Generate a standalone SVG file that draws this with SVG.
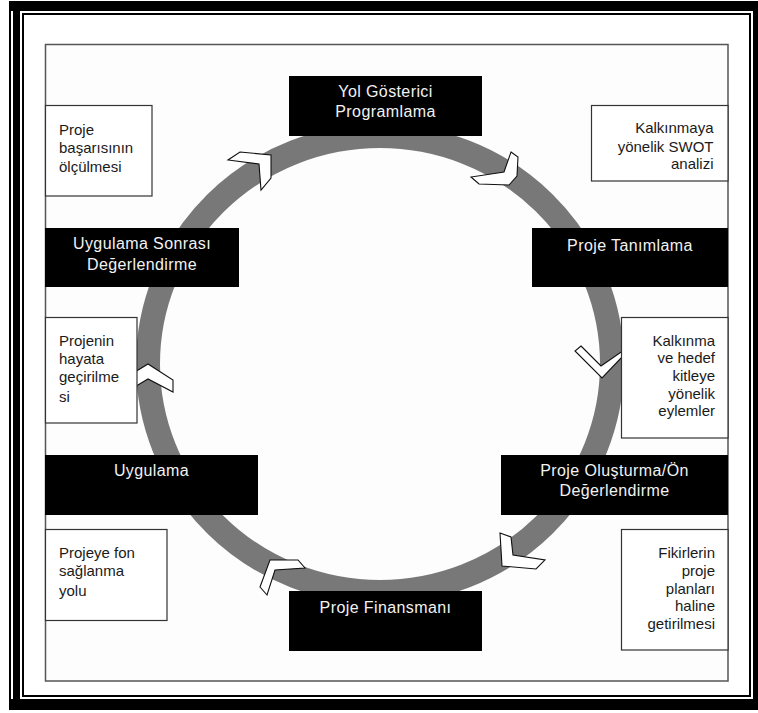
<svg xmlns="http://www.w3.org/2000/svg" width="758" height="713" viewBox="0 0 758 713">
<style>
.blk{fill:#000}
.wbox{fill:#fff;stroke:#333;stroke-width:1.2}
.bt{font-family:"Liberation Sans",Arial,sans-serif;font-size:16px;letter-spacing:0.4px;fill:#f2f2f2;text-anchor:middle}
.wt{font-family:"Liberation Sans",Arial,sans-serif;font-size:15px;fill:#1a1a1a}
.wr{text-anchor:end}
.chev{fill:#fff;stroke:#111;stroke-width:1.1;stroke-linejoin:miter}
</style>
<rect x="0" y="0" width="758" height="713" fill="#fff"/>
<g id="frame">
<rect x="9" y="1" width="749" height="709" fill="#000"/>
<rect x="11" y="11" width="742" height="688" fill="#fff"/>
<rect x="13" y="11" width="7" height="688" fill="#000"/>
<rect x="23" y="14" width="727" height="682" fill="#fff" stroke="#000" stroke-width="2"/>
<rect x="45.5" y="44.5" width="682.5" height="636.5" fill="#fdfdfd" stroke="#555" stroke-width="1.5"/>
</g>
<g id="connectors">
<ellipse cx="380" cy="364" rx="232" ry="228" fill="none" stroke="#787878" stroke-width="24"/>
<polygon class="chev" points="240,152 271,155 271,178 261,190 259,164 228,160"/>
<polygon class="chev" points="511,152 518,157 517,176 509,185 479,184 471,177 504,172"/>
<polygon class="chev" points="581,346 601,366 624,350 624,355 602,378 575,351"/>
<polygon class="chev" points="500,533 511,537 513,555 545,560 536,569 502,566"/>
<polygon class="chev" points="270,560 298,560 305,568 275,570 267,595 260,587"/>
<polygon class="chev" points="125,378 148,364 173,380 173,392 148,379 128,391"/>
</g>
<g id="n-yol">
<rect class="blk" x="289" y="76" width="193" height="60"/>
<text class="bt" x="385.5" y="97">Yol Gösterici</text>
<text class="bt" x="385.5" y="117">Programlama</text>
</g>
<g id="n-tanimlama">
<rect class="blk" x="532" y="228" width="196" height="59"/>
<text class="bt" x="630" y="251">Proje Tanımlama</text>
</g>
<g id="n-olusturma">
<rect class="blk" x="501" y="455" width="227" height="60"/>
<text class="bt" x="614.5" y="476">Proje Oluşturma/Ön</text>
<text class="bt" x="614.5" y="495.5">Değerlendirme</text>
</g>
<g id="n-finansman">
<rect class="blk" x="289" y="591" width="193" height="60"/>
<text class="bt" x="385.5" y="612.5">Proje Finansmanı</text>
</g>
<g id="n-uygulama">
<rect class="blk" x="45" y="455" width="213" height="60"/>
<text class="bt" x="151.5" y="476">Uygulama</text>
</g>
<g id="n-sonrasi">
<rect class="blk" x="45" y="228" width="194" height="59"/>
<text class="bt" x="142" y="248.5">Uygulama Sonrası</text>
<text class="bt" x="142" y="270">Değerlendirme</text>
</g>
<g id="n-basari">
<rect class="wbox" x="45.5" y="105.5" width="106.5" height="90.5"/>
<text class="wt" x="59" y="134.5">Proje</text>
<text class="wt" x="59" y="153">başarısının</text>
<text class="wt" x="59" y="171.5">ölçülmesi</text>
</g>
<g id="n-swot">
<rect class="wbox" x="591.5" y="105.5" width="136.5" height="75.5"/>
<text class="wt wr" x="713.5" y="133">Kalkınmaya</text>
<text class="wt wr" x="713.5" y="151.5">yönelik SWOT</text>
<text class="wt wr" x="713.5" y="168.5">analizi</text>
</g>
<g id="n-hayata">
<rect class="wbox" x="45.5" y="317.5" width="91.5" height="105.5"/>
<text class="wt" x="59" y="346">Projenin</text>
<text class="wt" x="59" y="363.5">hayata</text>
<text class="wt" x="59" y="381.5">geçirilme</text>
<text class="wt" x="59" y="401.5">si</text>
</g>
<g id="n-eylemler">
<rect class="wbox" x="621.5" y="317.5" width="106.5" height="120.5"/>
<text class="wt wr" x="715" y="345.5">Kalkınma</text>
<text class="wt wr" x="715" y="363">ve hedef</text>
<text class="wt wr" x="715" y="381">kitleye</text>
<text class="wt wr" x="715" y="398.5">yönelik</text>
<text class="wt wr" x="715" y="416">eylemler</text>
</g>
<g id="n-fon">
<rect class="wbox" x="45.5" y="529.5" width="121.5" height="91"/>
<text class="wt" x="59" y="557.5">Projeye fon</text>
<text class="wt" x="59" y="576">sağlanma</text>
<text class="wt" x="59" y="595.5">yolu</text>
</g>
<g id="n-fikir">
<rect class="wbox" x="621.5" y="529.5" width="106.5" height="120.5"/>
<text class="wt wr" x="715" y="557.5">Fikirlerin</text>
<text class="wt wr" x="715" y="575.5">proje</text>
<text class="wt wr" x="715" y="593.5">planları</text>
<text class="wt wr" x="715" y="611">haline</text>
<text class="wt wr" x="715" y="628.5">getirilmesi</text>
</g>
</svg>
